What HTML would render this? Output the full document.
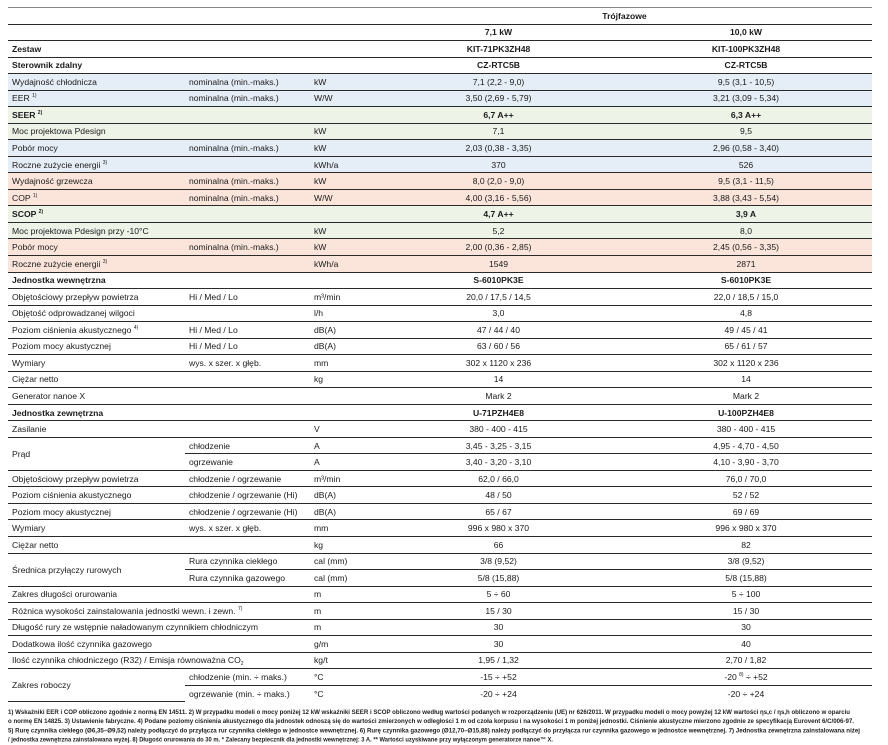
<!DOCTYPE html>
<html><head><meta charset="utf-8"><style>
body{margin:0;width:888px;height:745px;background:#fff;font-family:"Liberation Sans",sans-serif;color:#1a1a1a;position:relative;overflow:hidden}
table{position:absolute;left:8px;top:7px;border-collapse:collapse;table-layout:fixed;width:864px;font-size:8.6px}
td{height:15.54px;padding:0 0 0 4px;border-bottom:1px solid #2a2a2a;white-space:nowrap;overflow:visible;line-height:10px}
tr:first-child td{border-top:1px solid #888}
td.v{text-align:center;padding:0}
.b td{font-weight:bold}
td.b{font-weight:bold}
.bl td{background:#e5edf6}.gr td{background:#eef3e7}.pe td{background:#fbe5db}
sup{font-size:5px;vertical-align:4px;line-height:0}
sub{font-size:5px;vertical-align:-2px;line-height:0}
svg{position:absolute;left:0;top:700px}
</style></head><body>
<table>
<colgroup><col style="width:177px"><col style="width:125px"><col style="width:67px"><col style="width:243px"><col style="width:252px"></colgroup>
<tr><td></td><td></td><td></td><td class="v b" colspan="2">Trójfazowe</td></tr>
<tr class="b"><td></td><td></td><td></td><td class="v">7,1 kW</td><td class="v">10,0 kW</td></tr>
<tr class="b"><td>Zestaw</td><td></td><td></td><td class="v">KIT-71PK3ZH48</td><td class="v">KIT-100PK3ZH48</td></tr>
<tr class="b"><td>Sterownik zdalny</td><td></td><td></td><td class="v">CZ-RTC5B</td><td class="v">CZ-RTC5B</td></tr>
<tr class="bl"><td>Wydajność chłodnicza</td><td>nominalna (min.-maks.)</td><td>kW</td><td class="v">7,1 (2,2 - 9,0)</td><td class="v">9,5 (3,1 - 10,5)</td></tr>
<tr class="bl"><td>EER <sup>1)</sup></td><td>nominalna (min.-maks.)</td><td>W/W</td><td class="v">3,50 (2,69 - 5,79)</td><td class="v">3,21 (3,09 - 5,34)</td></tr>
<tr class="gr b"><td>SEER <sup>2)</sup></td><td></td><td></td><td class="v">6,7 A++</td><td class="v">6,3 A++</td></tr>
<tr class="gr"><td>Moc projektowa Pdesign</td><td></td><td>kW</td><td class="v">7,1</td><td class="v">9,5</td></tr>
<tr class="bl"><td>Pobór mocy</td><td>nominalna (min.-maks.)</td><td>kW</td><td class="v">2,03 (0,38 - 3,35)</td><td class="v">2,96 (0,58 - 3,40)</td></tr>
<tr class="bl"><td>Roczne zużycie energii <sup>3)</sup></td><td></td><td>kWh/a</td><td class="v">370</td><td class="v">526</td></tr>
<tr class="pe"><td>Wydajność grzewcza</td><td>nominalna (min.-maks.)</td><td>kW</td><td class="v">8,0 (2,0 - 9,0)</td><td class="v">9,5 (3,1 - 11,5)</td></tr>
<tr class="pe"><td>COP <sup>1)</sup></td><td>nominalna (min.-maks.)</td><td>W/W</td><td class="v">4,00 (3,16 - 5,56)</td><td class="v">3,88 (3,43 - 5,54)</td></tr>
<tr class="gr b"><td>SCOP <sup>2)</sup></td><td></td><td></td><td class="v">4,7 A++</td><td class="v">3,9 A</td></tr>
<tr class="gr"><td>Moc projektowa Pdesign przy -10°C</td><td></td><td>kW</td><td class="v">5,2</td><td class="v">8,0</td></tr>
<tr class="pe"><td>Pobór mocy</td><td>nominalna (min.-maks.)</td><td>kW</td><td class="v">2,00 (0,36 - 2,85)</td><td class="v">2,45 (0,56 - 3,35)</td></tr>
<tr class="pe"><td>Roczne zużycie energii <sup>3)</sup></td><td></td><td>kWh/a</td><td class="v">1549</td><td class="v">2871</td></tr>
<tr class="b"><td>Jednostka wewnętrzna</td><td></td><td></td><td class="v">S-6010PK3E</td><td class="v">S-6010PK3E</td></tr>
<tr><td>Objętościowy przepływ powietrza</td><td>Hi / Med / Lo</td><td>m³/min</td><td class="v">20,0 / 17,5 / 14,5</td><td class="v">22,0 / 18,5 / 15,0</td></tr>
<tr><td>Objętość odprowadzanej wilgoci</td><td></td><td>l/h</td><td class="v">3,0</td><td class="v">4,8</td></tr>
<tr><td>Poziom ciśnienia akustycznego <sup>4)</sup></td><td>Hi / Med / Lo</td><td>dB(A)</td><td class="v">47 / 44 / 40</td><td class="v">49 / 45 / 41</td></tr>
<tr><td>Poziom mocy akustycznej</td><td>Hi / Med / Lo</td><td>dB(A)</td><td class="v">63 / 60 / 56</td><td class="v">65 / 61 / 57</td></tr>
<tr><td>Wymiary</td><td>wys. x szer. x głęb.</td><td>mm</td><td class="v">302 x 1120 x 236</td><td class="v">302 x 1120 x 236</td></tr>
<tr><td>Ciężar netto</td><td></td><td>kg</td><td class="v">14</td><td class="v">14</td></tr>
<tr><td>Generator nanoe X</td><td></td><td></td><td class="v">Mark 2</td><td class="v">Mark 2</td></tr>
<tr class="b"><td>Jednostka zewnętrzna</td><td></td><td></td><td class="v">U-71PZH4E8</td><td class="v">U-100PZH4E8</td></tr>
<tr><td>Zasilanie</td><td></td><td>V</td><td class="v">380 - 400 - 415</td><td class="v">380 - 400 - 415</td></tr>
<tr><td rowspan="2">Prąd</td><td>chłodzenie</td><td>A</td><td class="v">3,45 - 3,25 - 3,15</td><td class="v">4,95 - 4,70 - 4,50</td></tr>
<tr><td>ogrzewanie</td><td>A</td><td class="v">3,40 - 3,20 - 3,10</td><td class="v">4,10 - 3,90 - 3,70</td></tr>
<tr><td>Objętościowy przepływ powietrza</td><td>chłodzenie / ogrzewanie</td><td>m³/min</td><td class="v">62,0 / 66,0</td><td class="v">76,0 / 70,0</td></tr>
<tr><td>Poziom ciśnienia akustycznego</td><td>chłodzenie / ogrzewanie (Hi)</td><td>dB(A)</td><td class="v">48 / 50</td><td class="v">52 / 52</td></tr>
<tr><td>Poziom mocy akustycznej</td><td>chłodzenie / ogrzewanie (Hi)</td><td>dB(A)</td><td class="v">65 / 67</td><td class="v">69 / 69</td></tr>
<tr><td>Wymiary</td><td>wys. x szer. x głęb.</td><td>mm</td><td class="v">996 x 980 x 370</td><td class="v">996 x 980 x 370</td></tr>
<tr><td>Ciężar netto</td><td></td><td>kg</td><td class="v">66</td><td class="v">82</td></tr>
<tr><td rowspan="2">Średnica przyłączy rurowych</td><td>Rura czynnika ciekłego</td><td>cal (mm)</td><td class="v">3/8 (9,52)</td><td class="v">3/8 (9,52)</td></tr>
<tr><td>Rura czynnika gazowego</td><td>cal (mm)</td><td class="v">5/8 (15,88)</td><td class="v">5/8 (15,88)</td></tr>
<tr><td>Zakres długości orurowania</td><td></td><td>m</td><td class="v">5 ÷ 60</td><td class="v">5 ÷ 100</td></tr>
<tr><td colspan="2">Różnica wysokości zainstalowania jednostki wewn. i zewn. <sup>7)</sup></td><td>m</td><td class="v">15 / 30</td><td class="v">15 / 30</td></tr>
<tr><td colspan="2">Długość rury ze wstępnie naładowanym czynnikiem chłodniczym</td><td>m</td><td class="v">30</td><td class="v">30</td></tr>
<tr><td colspan="2">Dodatkowa ilość czynnika gazowego</td><td>g/m</td><td class="v">30</td><td class="v">40</td></tr>
<tr><td colspan="2">Ilość czynnika chłodniczego (R32) / Emisja równoważna CO<sub>2</sub></td><td>kg/t</td><td class="v">1,95 / 1,32</td><td class="v">2,70 / 1,82</td></tr>
<tr><td rowspan="2">Zakres roboczy</td><td>chłodzenie (min. ÷ maks.)</td><td>°C</td><td class="v">-15 ÷ +52</td><td class="v">-20 <sup>8)</sup> ÷ +52</td></tr>
<tr><td style="border-bottom:none">ogrzewanie (min. ÷ maks.)</td><td style="border-bottom:none">°C</td><td class="v" style="border-bottom:none">-20 ÷ +24</td><td class="v" style="border-bottom:none">-20 ÷ +24</td></tr>
</table>
<svg width="888" height="45" font-family="Liberation Sans, sans-serif" font-size="6.2" font-weight="bold" fill="#222">
<text x="8" y="14" textLength="842" lengthAdjust="spacingAndGlyphs">1) Wskaźniki EER i COP obliczono zgodnie z normą EN 14511. 2) W przypadku modeli o mocy poniżej 12 kW wskaźniki SEER i SCOP obliczono według wartości podanych w rozporządzeniu (UE) nr 626/2011. W przypadku modeli o mocy powyżej 12 kW wartości ηs,c / ηs,h obliczono w oparciu</text>
<text x="8" y="23" textLength="846" lengthAdjust="spacingAndGlyphs">o normę EN 14825. 3) Ustawienie fabryczne. 4) Podane poziomy ciśnienia akustycznego dla jednostek odnoszą się do wartości zmierzonych w odległości 1 m od czoła korpusu i na wysokości 1 m poniżej jednostki. Ciśnienie akustyczne mierzono zgodnie ze specyfikacją Eurovent 6/C/006-97.</text>
<text x="8" y="32.5" textLength="852" lengthAdjust="spacingAndGlyphs">5) Rurę czynnika ciekłego (Ø6,35–Ø9,52) należy podłączyć do przyłącza rur czynnika ciekłego w jednostce wewnętrznej. 6) Rurę czynnika gazowego (Ø12,70–Ø15,88) należy podłączyć do przyłącza rur czynnika gazowego w jednostce wewnętrznej. 7) Jednostka zewnętrzna zainstalowana niżej</text>
<text x="8" y="41.5" textLength="545" lengthAdjust="spacingAndGlyphs">/ jednostka zewnętrzna zainstalowana wyżej. 8) Długość orurowania do 30 m. * Zalecany bezpiecznik dla jednostki wewnętrznej: 3 A. ** Wartości uzyskiwane przy wyłączonym generatorze nanoe™ X.</text>
</svg>
</body></html>
